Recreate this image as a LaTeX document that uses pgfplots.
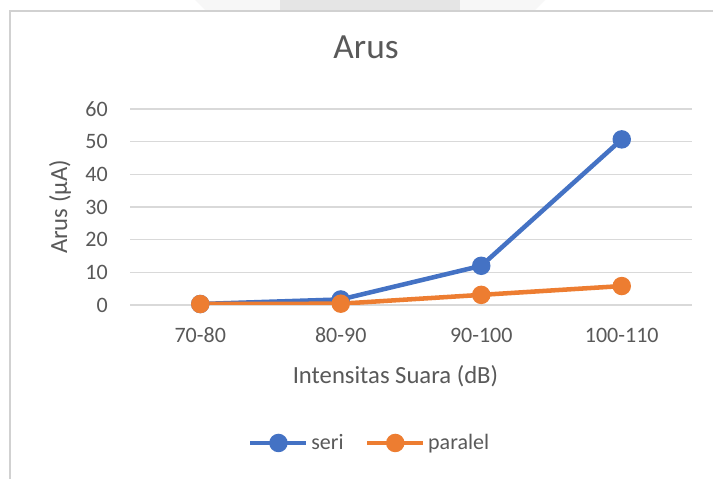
\documentclass[border=0pt]{standalone}
\usepackage{pgfplots}
\pgfplotsset{compat=1.18}
\usepackage{fontspec}
\setmainfont{Carlito}
\definecolor{seri}{HTML}{4472C4}
\definecolor{paralel}{HTML}{ED7D31}
\definecolor{txt}{HTML}{595959}
\definecolor{gridc}{HTML}{D9D9D9}
\begin{document}
\begin{tikzpicture}
\useasboundingbox (0pt,0pt) rectangle (534.75pt,358.5pt);
\fill[white] (0pt,0pt) rectangle (534.75pt,358.5pt);
\fill[black!3] (146.25pt,358.5pt) -- (155.25pt,349.5pt) -- (399.75pt,349.5pt) -- (408.75pt,358.5pt) -- cycle;
\fill[black!10] (210pt,351pt) rectangle (345pt,358.5pt);
\draw[black!18, line width=0.9pt] (7.5pt,-15pt) rectangle (555pt,350.25pt);
\begin{axis}[
  at={(97.5pt,129.75pt)}, anchor=south west,
  scale only axis, width=421.5pt, height=147pt,
  xmin=-0.5, xmax=3.5, ymin=0, ymax=60,
  ytick={0,10,...,60},
  xtick={0,1,2,3},
  xticklabels={70-80,80-90,90-100,100-110},
  ymajorgrids, grid style={gridc, line width=0.9pt},
  axis line style={draw=none},
  major tick style={draw=none},
  /pgf/number format/assume math mode=true,
  tick label style={font=\fontsize{16.5}{19}\selectfont, text=txt},
  xticklabel style={anchor=center, yshift=-22.5pt},
  yticklabel style={anchor=east, inner sep=0pt, xshift=-16.5pt},
  xlabel={Intensitas Suara (dB)},
  ylabel={Arus (µA)},
  label style={font=\fontsize{18.5}{21}\selectfont, text=txt},
  xlabel style={at={(axis description cs:0.4724,-0.362)}, anchor=center},
  ylabel style={at={(axis description cs:-0.1246,0.5)}, anchor=center},
  title={Arus},
  title style={font=\fontsize{26.5}{30}\selectfont, text=txt, at={(axis description cs:0.42,1.2755)}, anchor=center},
  legend columns=2,
  legend style={draw=none, fill=none, at={(axis description cs:0.427,-0.704)}, anchor=center,
    font=\fontsize{16.5}{19}\selectfont, text=txt,
    /tikz/every even column/.append style={column sep=14pt}},
  legend image code/.code={
    \draw[#1, mark=none] (0pt,0pt) -- (42pt,0pt);
    \draw[#1, only marks] plot coordinates {(21pt,0pt)};
  },
]
\addplot[seri, line width=3.4pt, mark=*, mark size=5.2pt, mark options={solid}] coordinates {(0,0.3) (1,1.7) (2,12) (3,50.7)};
\addlegendentry{seri}
\addplot[paralel, line width=3.4pt, mark=*, mark size=5.2pt, mark options={solid}] coordinates {(0,0.3) (1,0.4) (2,3.1) (3,5.8)};
\addlegendentry{paralel}
\end{axis}
\end{tikzpicture}
\end{document}
